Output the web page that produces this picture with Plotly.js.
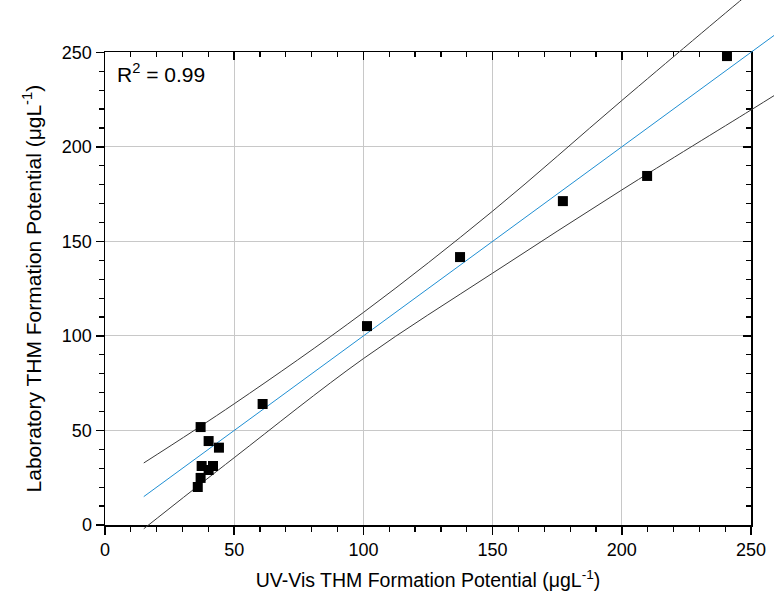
<!DOCTYPE html>
<html>
<head>
<meta charset="utf-8">
<script src="https://cdn.plot.ly/plotly-3.0.1.min.js"></script>
<style>html,body{margin:0;padding:0;background:#fff;}#chart{width:774px;height:604px;}</style>
</head>
<body>
<div id="chart"></div>
<script>
// Measured data (UV-Vis vs Laboratory THM formation potential, µg/L)
const uvVis = [240.7, 177.2, 209.8, 137.4, 101.4, 61.0, 37.0, 40.1, 44.1, 37.4, 41.8, 40.1, 37.0, 35.9];
const lab   = [248.0, 171.3, 184.6, 141.7, 105.2, 64.0, 51.8, 44.4, 40.9, 31.2, 31.2, 29.1, 24.9, 20.1];

// Fit line and band curves
const fitX = [15, 260];
const fitY = [15, 260];
const bandX     = [15, 50, 100, 150, 200, 250, 260];
const upperBand = [32.8, 64.1, 112.4, 166.0, 224.5, 282.0, 293.0];
const lowerBand = [-2.0, 35.6, 88.0, 133.2, 177.2, 219.5, 228.0];

const xTicks = [0, 50, 100, 150, 200, 250];
const yTicks = [0, 50, 100, 150, 200, 250];
const xRange = [0, 250];
const yRange = [0, 250];

const W = 774, H = 604;
const xDom = [105 / W, 751 / W];
const yDom = [(H - 525) / H, (H - 52.3) / H];

function extend(r, d) {
  const span = (r[1] - r[0]) / (d[1] - d[0]);
  return [r[0] - span * d[0], r[1] + span * (1 - d[1])];
}

const font = 'Liberation Sans, Arial, sans-serif';
const bandColor = '#3a3a3a';

const traces = [
  {x: bandX, y: upperBand, xaxis: 'x3', yaxis: 'y3', mode: 'lines',
   line: {color: bandColor, width: 1, shape: 'spline'}, hoverinfo: 'skip'},
  {x: bandX, y: lowerBand, xaxis: 'x3', yaxis: 'y3', mode: 'lines',
   line: {color: bandColor, width: 1, shape: 'spline'}, hoverinfo: 'skip'},
  {x: fitX, y: fitY, xaxis: 'x3', yaxis: 'y3', mode: 'lines',
   line: {color: '#1f8fd3', width: 1}},
  {x: uvVis, y: lab, xaxis: 'x3', yaxis: 'y3', mode: 'markers',
   marker: {symbol: 'square', size: 10, color: '#000'}},
  {x: [], y: [], xaxis: 'x', yaxis: 'y', mode: 'markers'},
  {x: [], y: [], xaxis: 'x2', yaxis: 'y2', mode: 'markers'}
];

const common = {
  showline: true, linecolor: '#000', linewidth: 1.5,
  tickfont: {family: font, size: 18, color: '#000'},
  zeroline: false, fixedrange: true
};

const layout = {
  width: W, height: H,
  margin: {l: 0, r: 0, t: 0, b: 0},
  paper_bgcolor: '#fff', plot_bgcolor: 'rgba(0,0,0,0)',
  showlegend: false,
  font: {family: font, color: '#000'},
  xaxis: Object.assign({}, common, {
    domain: xDom, range: xRange, anchor: 'y',
    tickmode: 'array', tickvals: xTicks, ticktext: xTicks.map(String),
    ticks: 'outside', ticklen: 8, tickwidth: 1.5, tickcolor: '#000',
    showgrid: true, gridcolor: '#c8c8c8', gridwidth: 1,
    minor: {dtick: 10, ticks: 'outside', ticklen: 5, tickwidth: 1.2, tickcolor: '#000', showgrid: false},
    title: {text: 'UV-Vis THM Formation Potential (μgL<sup>-1</sup>)', font: {family: font, size: 19.5, color: '#000'}, standoff: 14},
    automargin: false
  }),
  yaxis: Object.assign({}, common, {
    domain: yDom, range: yRange, anchor: 'x',
    tickmode: 'array', tickvals: yTicks, ticktext: yTicks.map(String),
    ticks: 'outside', ticklen: 8, tickwidth: 1.5, tickcolor: '#000',
    showgrid: true, gridcolor: '#c8c8c8', gridwidth: 1,
    minor: {dtick: 10, ticks: 'outside', ticklen: 5, tickwidth: 1.2, tickcolor: '#000', showgrid: false},
    title: {text: 'Laboratory THM Formation Potential (μgL<sup>-1</sup>)', font: {family: font, size: 21, color: '#000'}, standoff: 14},
    automargin: false
  }),
  xaxis2: Object.assign({}, common, {
    overlaying: 'x', matches: 'x', side: 'top', anchor: 'y',
    tickmode: 'array', tickvals: xTicks,
    ticks: 'inside', ticklen: 8, tickwidth: 1.5, tickcolor: '#000',
    showticklabels: false, showgrid: false,
    minor: {dtick: 10, ticks: 'inside', ticklen: 5, tickwidth: 1.2, tickcolor: '#000', showgrid: false}
  }),
  yaxis2: Object.assign({}, common, {
    overlaying: 'y', matches: 'y', side: 'right', anchor: 'x',
    tickmode: 'array', tickvals: yTicks,
    ticks: 'inside', ticklen: 8, tickwidth: 1.5, tickcolor: '#000',
    showticklabels: false, showgrid: false,
    minor: {dtick: 10, ticks: 'inside', ticklen: 5, tickwidth: 1.2, tickcolor: '#000', showgrid: false}
  }),
  xaxis3: {domain: [0, 1], range: extend(xRange, xDom), anchor: 'y3', visible: false, fixedrange: true},
  yaxis3: {domain: [0, 1], range: extend(yRange, yDom), anchor: 'x3', visible: false, fixedrange: true},
  annotations: [{
    xref: 'x', yref: 'y', x: 4, y: 239, xanchor: 'left', yanchor: 'middle',
    text: 'R<sup>2</sup> = 0.99', showarrow: false,
    font: {family: font, size: 21, color: '#000'}
  }]
};

Plotly.newPlot('chart', traces, layout, {displayModeBar: false, staticPlot: true});
</script>
</body>
</html>
